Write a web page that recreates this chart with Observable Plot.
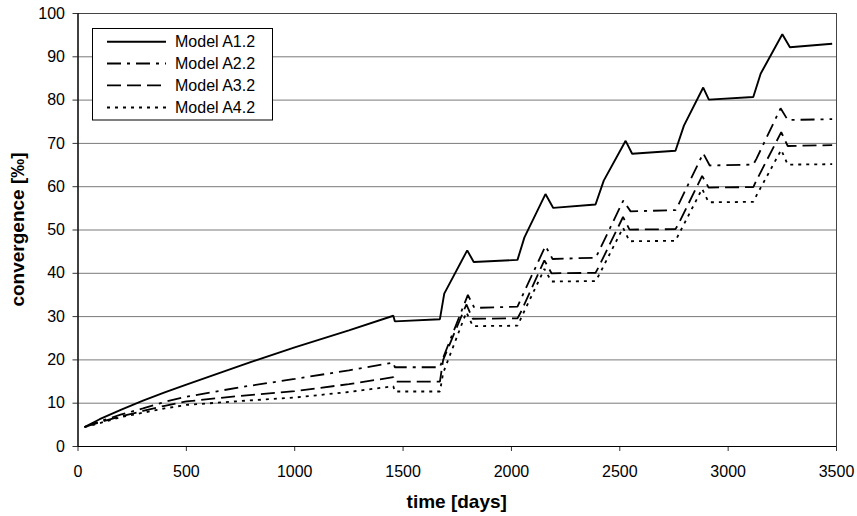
<!DOCTYPE html>
<html>
<head>
<meta charset="utf-8">
<script src="https://cdn.jsdelivr.net/npm/d3@7"></script>
<script src="https://cdn.jsdelivr.net/npm/@observablehq/plot@0.6"></script>
<style>
  html, body { margin: 0; padding: 0; background: #fff; }
</style>
</head>
<body>
<div id="chart"></div>
<script>
// ---- data ----
const seriesNames = ["Model A1.2", "Model A2.2", "Model A3.2", "Model A4.2"];

const timeA1 = [30, 100, 200, 300, 400, 500, 750, 1000, 1250, 1455, 1462, 1670, 1690, 1796, 1826, 2028, 2060, 2157, 2193, 2388, 2426, 2527, 2557, 2757, 2796, 2885, 2911, 3116, 3150, 3250, 3285, 3480];
const convA1 = [4.5, 6.3, 8.5, 10.6, 12.5, 14.3, 18.7, 22.9, 26.8, 30.2, 28.9, 29.4, 35.3, 45.3, 42.6, 43.1, 48.3, 58.3, 55.1, 55.9, 61.4, 70.6, 67.6, 68.3, 74.1, 82.9, 80.1, 80.7, 86.1, 95.2, 92.2, 93.0];

const timeA2 = [30, 100, 200, 300, 400, 500, 750, 1000, 1250, 1455, 1462, 1670, 1685, 1799, 1829, 2028, 2043, 2157, 2190, 2388, 2403, 2516, 2550, 2757, 2772, 2885, 2915, 3116, 3131, 3242, 3275, 3480];
const convA2 = [4.5, 5.8, 7.4, 8.8, 10.3, 11.5, 13.7, 15.6, 17.6, 19.4, 18.3, 18.3, 20.5, 35.0, 32.0, 32.3, 34.0, 46.3, 43.3, 43.6, 45.0, 56.8, 54.3, 54.6, 56.0, 67.7, 64.9, 65.1, 66.5, 78.1, 75.4, 75.6];

const timeA3 = [30, 100, 200, 300, 400, 500, 750, 1000, 1250, 1455, 1462, 1670, 1685, 1792, 1822, 2028, 2043, 2152, 2185, 2388, 2403, 2515, 2545, 2757, 2772, 2880, 2910, 3116, 3131, 3245, 3275, 3480];
const convA3 = [4.5, 5.6, 7.0, 8.2, 9.4, 10.4, 11.7, 12.8, 14.4, 16.0, 15.0, 15.0, 20.0, 32.8, 29.5, 29.6, 31.0, 43.0, 40.0, 40.1, 41.5, 53.0, 50.1, 50.2, 51.5, 62.5, 59.8, 59.9, 61.5, 72.6, 69.4, 69.6];

const timeA4 = [30, 100, 200, 300, 400, 500, 750, 1000, 1250, 1455, 1462, 1670, 1685, 1792, 1822, 2028, 2043, 2152, 2185, 2388, 2403, 2515, 2545, 2757, 2772, 2880, 2910, 3116, 3131, 3245, 3275, 3480];
const convA4 = [4.5, 5.4, 6.8, 7.8, 8.8, 9.6, 10.5, 11.3, 12.6, 13.9, 12.7, 12.7, 17.0, 31.0, 27.8, 27.9, 29.5, 41.0, 38.1, 38.2, 39.5, 50.5, 47.4, 47.5, 49.0, 59.5, 56.4, 56.5, 58.0, 68.5, 65.1, 65.2];

const xTicks = [0, 500, 1000, 1500, 2000, 2500, 3000, 3500];
const yTicks = [0, 10, 20, 30, 40, 50, 60, 70, 80, 90, 100];
const xTitle = "time [days]";
const yTitle = "convergence [‰]";

// ---- styles ----
const dashes = ["none", "14,6,3,6", "14,6", "3,5"];
const widths = [1.9, 1.8, 1.8, 1.8];

const times = [timeA1, timeA2, timeA3, timeA4];
const convs = [convA1, convA2, convA3, convA4];
const rows = [];
seriesNames.forEach((name, i) => {
  times[i].forEach((t, j) => rows.push({series: name, time: t, conv: convs[i][j]}));
});

const W = 857, H = 516;
const mL = 77.5, mR = 21, mT = 13, mB = 70;
const font = "'Liberation Sans', Arial, Helvetica, sans-serif";

const lineMarks = seriesNames.map((name, i) =>
  Plot.line(rows.filter(d => d.series === name), {
    x: "time", y: "conv", stroke: "black",
    strokeWidth: widths[i], strokeDasharray: dashes[i],
    strokeLinejoin: "miter", strokeLinecap: "butt", curve: "linear"
  })
);

const svg = Plot.plot({
  width: W, height: H,
  marginLeft: mL, marginRight: mR, marginTop: mT, marginBottom: mB,
  style: {fontFamily: font, fontSize: "16px", color: "black", background: "white", overflow: "visible"},
  x: {domain: [0, 3500]},
  y: {domain: [0, 100]},
  marks: [
    Plot.gridY(yTicks, {stroke: "#7a7a7a", strokeOpacity: 1, strokeWidth: 1}),
    Plot.frame({stroke: "#444", strokeWidth: 1}),
    Plot.axisX({ticks: xTicks, tickFormat: d3.format("d"), tickSize: 5, tickPadding: 14, label: null, fontSize: 16, stroke: "#333"}),
    Plot.axisY({ticks: yTicks, tickFormat: d3.format("d"), tickSize: 5, tickPadding: 8, label: null, fontSize: 16, stroke: "#333"}),
    Plot.ruleY([0], {stroke: "black", strokeWidth: 1.2}),
    Plot.ruleX([0], {stroke: "black", strokeWidth: 1.2}),
    ...lineMarks
  ]
});

const s = d3.select(svg);

// axis titles
s.append("text")
  .attr("x", (mL + (W - mR)) / 2).attr("y", 508)
  .attr("text-anchor", "middle")
  .attr("font-family", font).attr("font-size", 19).attr("font-weight", "bold")
  .attr("fill", "black")
  .text(xTitle);

s.append("text")
  .attr("transform", `translate(24, ${(mT + (H - mB)) / 2}) rotate(-90)`)
  .attr("text-anchor", "middle")
  .attr("font-family", font).attr("font-size", 19).attr("font-weight", "bold")
  .attr("fill", "black")
  .text(yTitle);

// legend
const lg = s.append("g");
lg.append("rect")
  .attr("x", 92.5).attr("y", 28.5).attr("width", 180).attr("height", 91.5)
  .attr("fill", "white").attr("stroke", "black").attr("stroke-width", 1);
const rowY = [41.7, 63.5, 85.3, 107.5];
seriesNames.forEach((name, i) => {
  lg.append("line")
    .attr("x1", 107).attr("x2", 166).attr("y1", rowY[i]).attr("y2", rowY[i])
    .attr("stroke", "black").attr("stroke-width", widths[i])
    .attr("stroke-dasharray", dashes[i]);
  lg.append("text")
    .attr("x", 175).attr("y", rowY[i]).attr("dy", "0.35em")
    .attr("text-anchor", "start")
    .attr("font-family", font).attr("font-size", 16).attr("fill", "black")
    .text(name);
});

document.getElementById("chart").appendChild(svg);
</script>
</body>
</html>
